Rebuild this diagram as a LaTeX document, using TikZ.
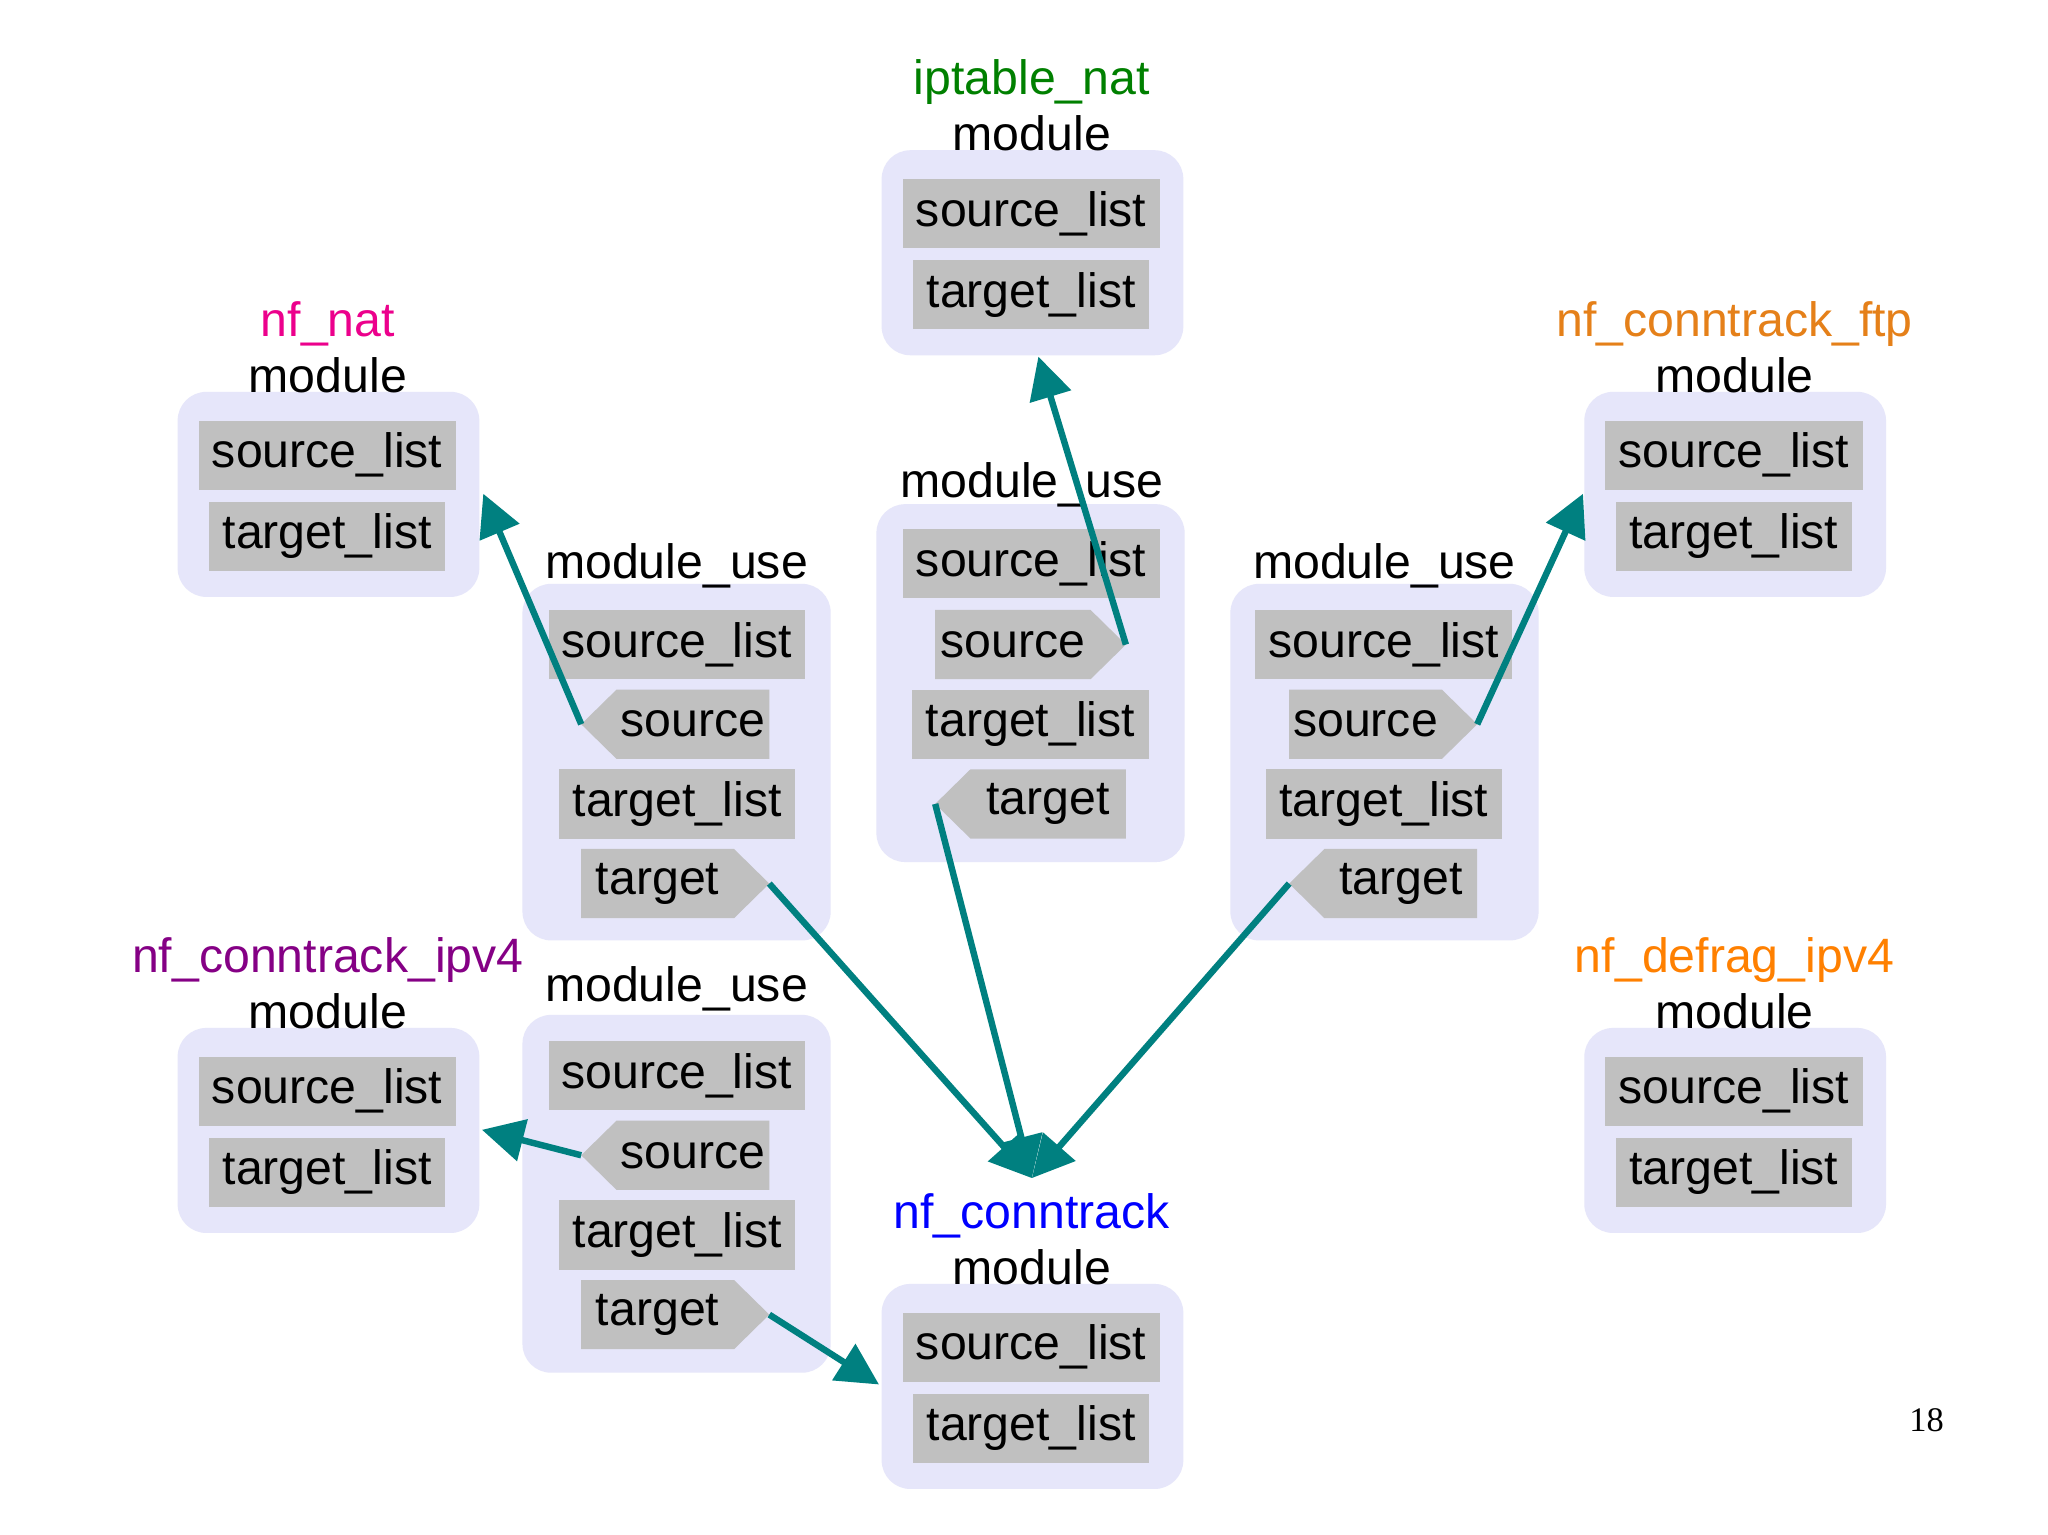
\documentclass[tikz,border=0pt]{standalone}
\usepackage{fontspec}
\setmainfont{Liberation Sans}
\usetikzlibrary{calc,arrows.meta}
\definecolor{lav}{HTML}{E6E6FA}
\definecolor{fg}{HTML}{C0C0C0}
\definecolor{teal2}{HTML}{008080}
\tikzset{
  modbg/.style={fill=lav,rounded corners=0.22cm},
  fieldbg/.style={fill=fg},
  txt/.style={font=\fontsize{10.5pt}{12pt}\selectfont,inner sep=0pt},
  conn/.style={draw=teal2,line width=1.4pt,-{Triangle[length=0.32cm,width=0.32cm]}}
}
\newcommand\fld[6]{% name x1 y1 x2 y2 text
  \fill[fieldbg] (#2,#3) rectangle (#4,#5);
  \node[txt] (#1) at ($(#2,#3)!0.5!(#4,#5)$) {#6};}
\newcommand\fldR[6]{% right pointing
  \fill[fieldbg] (#2,#3) -- ({#4-27},#3) -- (#4,{(#3+#5)/2}) -- ({#4-27},#5) -- (#2,#5) -- cycle;
  \coordinate (#1tip) at (#4,{(#3+#5)/2});
  \node[txt] (#1) at ($(#2,#3)!0.5!({#4-27},#5)$) {#6};}
\newcommand\fldL[6]{% left pointing
  \fill[fieldbg] ({#2+27},#3) -- (#4,#3) -- (#4,#5) -- ({#2+27},#5) -- (#2,{(#3+#5)/2}) -- cycle;
  \coordinate (#1tip) at (#2,{(#3+#5)/2});
  \node[txt] (#1) at ($({#2+27},#3)!0.5!(#4,#5)$) {#6};}
\newcommand\modbox[5]{% name x y title color
  \fill[modbg] (#2,#3) rectangle ({#2+231},{#3+157});
  \coordinate (#1) at (#2,#3);
  \node[txt,text=#5] (#1title) at ({#2+115},{#3-52}) {#4};
  \node[txt] (#1mod) at ({#2+115},{#3-13}) {module};
  \fld{#1sl}{#2+16}{#3+22}{#2+213}{#3+75}{source\_list}
  \fld{#1tl}{#2+24}{#3+84}{#2+205}{#3+137}{target\_list}}
\begin{document}
\begin{tikzpicture}[x=0.01cm,y=-0.01cm]
\useasboundingbox[fill=white] (0,0) rectangle (1568,1175);
\modbox{ipt}{675}{115}{iptable\_nat}{green!50!black}
\modbox{nat}{136}{300}{nf\_nat}{magenta}
\modbox{ftp}{1213}{300}{nf\_conntrack\_ftp}{orange!60!brown}
\modbox{ipv}{136}{787}{nf\_conntrack\_ipv4}{violet!70!magenta!80!black}
\modbox{dfr}{1213}{787}{nf\_defrag\_ipv4}{orange}
\modbox{nfc}{675}{983}{nf\_conntrack}{blue}
% module_use 1
\fill[modbg] (400,447) rectangle (636,720);
\node[txt] (mu1) at (518,433) {module\_use};
\fld{aSL}{420}{467}{616}{520}{source\_list}
\fldL{aS}{445}{528}{589}{581}{source}
\fld{aTL}{428}{589}{609}{642}{target\_list}
\fldR{aT}{445}{650}{589}{703}{target}
% module_use 2
\fill[modbg] (671,386) rectangle (907,660);
\node[txt] (mu2) at (790,371) {module\_use};
\fld{bSL}{691}{405}{888}{458}{source\_list}
\fldR{bS}{716}{467}{862}{520}{source}
\fld{bTL}{698}{528}{880}{581}{target\_list}
\fldL{bT}{716}{589}{862}{642}{target}
% module_use 3
\fill[modbg] (942,447) rectangle (1178,720);
\node[txt] (mu3) at (1060,433) {module\_use};
\fld{cSL}{961}{467}{1158}{520}{source\_list}
\fldR{cS}{987}{528}{1131}{581}{source}
\fld{cTL}{969}{589}{1150}{642}{target\_list}
\fldL{cT}{987}{650}{1131}{703}{target}
% module_use 4
\fill[modbg] (400,777) rectangle (636,1051);
\node[txt] (mu4) at (518,757) {module\_use};
\fld{dSL}{420}{797}{616}{850}{source\_list}
\fldL{dS}{445}{858}{589}{911}{source}
\fld{dTL}{428}{919}{609}{972}{target\_list}
\fldR{dT}{445}{980}{589}{1033}{target}
% connector ends
\coordinate (natE) at (370,378);
\coordinate (iptB) at (795,273);
\coordinate (ftpW) at (1212,378);
\coordinate (ipvE) at (369,865);
\coordinate (nfcT) at (790,902);
\coordinate (nfcW) at (673,1060);
\draw[conn] (aStip) -- (natE);
\draw[conn] (bStip) -- (iptB);
\draw[conn] (cStip) -- (ftpW);
\draw[conn] (dStip) -- (ipvE);
\draw[conn] (aTtip) -- (nfcT);
\draw[conn] (bTtip) -- (nfcT);
\draw[conn] (cTtip) -- (nfcT);
\draw[conn] (dTtip) -- (nfcW);
\node[font=\fontspec{Liberation Serif}\fontsize{7.5pt}{9pt}\selectfont,inner sep=0pt] (pg) at (1475,1087) {18};
\end{tikzpicture}
\end{document}
